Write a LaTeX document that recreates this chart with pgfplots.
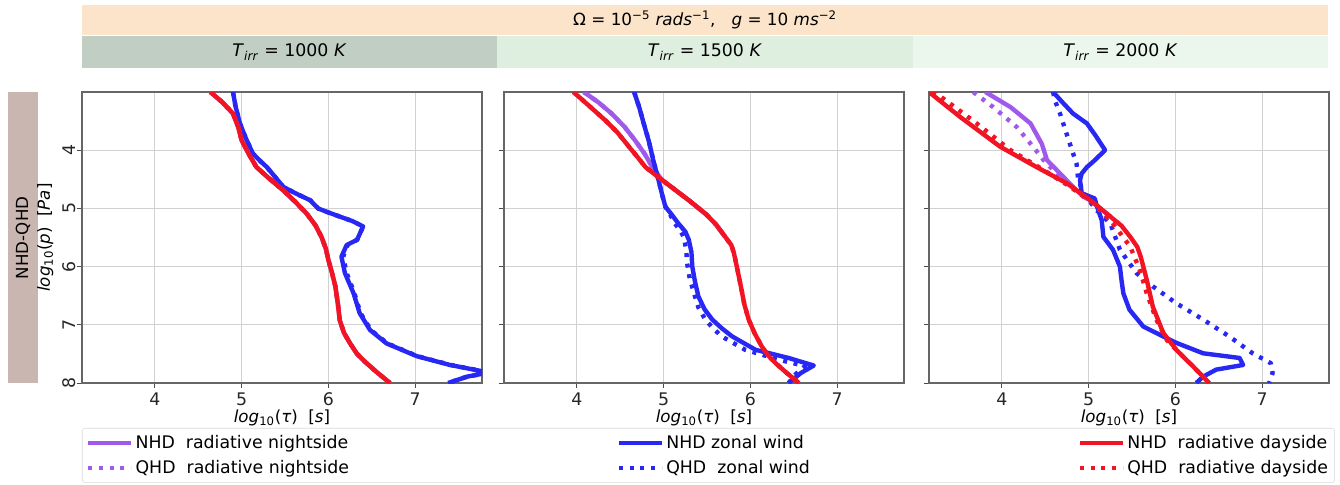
\documentclass[border=0pt]{standalone}
\usepackage{fontspec}
\setmainfont{DejaVu Sans}
\usepackage{pgfplots}
\pgfplotsset{compat=1.18}

\definecolor{cpur}{RGB}{160,90,235}
\definecolor{cblu}{RGB}{40,40,245}
\definecolor{cred}{RGB}{242,20,35}
\definecolor{hdrO}{RGB}{252,228,202}
\definecolor{hdrA}{RGB}{193,206,195}
\definecolor{hdrB}{RGB}{222,239,224}
\definecolor{hdrC}{RGB}{235,247,236}
\definecolor{rowbox}{RGB}{201,182,177}

\pgfplotsset{
 panel/.style={scale only axis, width=300pt, height=218.25pt, anchor=south west,
  xmin=3.16, xmax=7.77, ymin=3, ymax=8, y dir=reverse,
  xtick={4,5,6,7}, ytick={4,5,6,7,8},
  xtick pos=left, ytick pos=left, tick align=outside,
  major tick length=4pt,
  grid=major, grid style={color=black!18, line width=0.7pt},
  axis line style={color=black!60, line width=0.9pt},
  tick style={color=black!70, line width=0.7pt},
  /pgf/number format/assume math mode=true,
  tick label style={font=\fontsize{13}{15}\selectfont, text=black!85},
  label style={font=\fontsize{12.5}{14}\selectfont},
  yticklabel style={rotate=90, anchor=south, inner sep=0.5pt},
  xlabel={\textit{log}\textsubscript{10}(\textit{τ})\ \ [\textit{s}]},
  xlabel shift=-4pt,
  ylabel shift=3pt,
  every axis plot/.append style={line width=3.3pt, line join=round, no marks},
 },
 qhd/.style={dash pattern=on 3pt off 5pt},
}

\begin{document}
\begin{tikzpicture}
\begin{scope}[x=0.75pt,y=0.75pt]
\path (0,0) rectangle (1340,485);
\fill[hdrO] (82,450) rectangle (1328,480);
\node[font=\fontsize{12.6}{14}\selectfont] at (705,465) {Ω = 10\textsuperscript{−5} \textit{rads}\textsuperscript{−1},\ \ \ \textit{g} = 10 \textit{ms}\textsuperscript{−2}};
\fill[hdrA] (82,417) rectangle (497,449);
\fill[hdrB] (497,417) rectangle (913,449);
\fill[hdrC] (913,417) rectangle (1328,449);
\node[font=\fontsize{13}{15}\selectfont] at (289.5,433) {\textit{T}\textsubscript{\textit{irr}} = 1000 \textit{K}};
\node[font=\fontsize{13}{15}\selectfont] at (705,433) {\textit{T}\textsubscript{\textit{irr}} = 1500 \textit{K}};
\node[font=\fontsize{13}{15}\selectfont] at (1120.5,433) {\textit{T}\textsubscript{\textit{irr}} = 2000 \textit{K}};
\fill[rowbox] (8,102) rectangle (38,393);
\node[rotate=90,font=\fontsize{12.5}{14}\selectfont] at (23,247) {NHD-QHD};
\end{scope}

% ---------------- Panel 1 ----------------
\begin{axis}[panel, at={(61.5pt,76.5pt)},
  ylabel={\textit{log}\textsubscript{10}(\textit{p})\ \ [\textit{Pa}]},
  legend columns=3,
  legend cell align=left,
  legend image code/.code={\draw[#1] (0pt,0pt) -- (32pt,0pt);},
  legend style={at={(0,-0.1546)}, anchor=north west, draw=black!15, rounded corners=2pt,
    font=\fontsize{13}{15}\selectfont,
    /tikz/every even column/.append style={column sep=199pt},
    row sep=4pt,
    inner xsep=3pt, inner ysep=3pt},
]
\addlegendimage{cpur, line width=3pt}
\addlegendentry{NHD\ \ radiative nightside}
\addlegendimage{cblu, line width=3pt}
\addlegendentry{NHD zonal wind}
\addlegendimage{cred, line width=3pt}
\addlegendentry{NHD\ \ radiative dayside}
\addlegendimage{cpur, line width=3pt, qhd}
\addlegendentry{QHD\ \ radiative nightside}
\addlegendimage{cblu, line width=3pt, qhd}
\addlegendentry{QHD\ \ zonal wind}
\addlegendimage{cred, line width=3pt, qhd}
\addlegendentry{QHD\ \ radiative dayside}

% blue QHD
\addplot[cblu, qhd, forget plot] coordinates {
(4.90,3.0) (4.93,3.25) (4.98,3.54) (5.05,3.8) (5.13,4.06) (5.21,4.18) (5.29,4.29)
(5.38,4.45) (5.48,4.63) (5.62,4.74) (5.79,4.86) (5.88,5.0) (6.00,5.07) (6.13,5.14)
(6.28,5.22) (6.40,5.31) (6.33,5.54) (6.22,5.63) (6.17,5.83) (6.21,6.11) (6.30,6.46)
(6.37,6.80) (6.49,7.09) (6.68,7.32) (7.03,7.54) (7.41,7.69) (7.86,7.82) (7.60,7.89) (7.38,8.0)};
% blue NHD
\addplot[cblu, forget plot] coordinates {
(4.90,3.0) (4.93,3.25) (4.98,3.54) (5.05,3.8) (5.13,4.06) (5.21,4.18) (5.29,4.29)
(5.38,4.45) (5.48,4.63) (5.62,4.74) (5.79,4.86) (5.88,5.0) (6.00,5.07) (6.13,5.14)
(6.28,5.22) (6.40,5.31) (6.33,5.54) (6.21,5.63) (6.15,5.83) (6.19,6.11) (6.29,6.46)
(6.36,6.80) (6.48,7.09) (6.67,7.32) (7.02,7.54) (7.40,7.69) (7.85,7.82) (7.60,7.89) (7.38,8.0)};
% purple (hidden under red)
\addplot[cpur, forget plot] coordinates {
(4.64,3.0) (4.78,3.18) (4.90,3.37) (4.96,3.6) (5.00,3.83) (5.08,4.06) (5.17,4.29)
(5.32,4.49) (5.48,4.69) (5.62,4.89) (5.75,5.09) (5.85,5.29) (5.92,5.49) (5.97,5.69)
(6.00,5.89) (6.04,6.1) (6.08,6.34) (6.11,6.65) (6.13,6.92) (6.18,7.14) (6.25,7.32)
(6.33,7.5) (6.44,7.66) (6.57,7.83) (6.71,8.0)};
% red QHD
\addplot[cred, qhd, forget plot] coordinates {
(4.64,3.0) (4.78,3.18) (4.90,3.37) (4.96,3.6) (5.00,3.83) (5.08,4.06) (5.17,4.29)
(5.32,4.49) (5.48,4.69) (5.62,4.89) (5.75,5.09) (5.85,5.29) (5.92,5.49) (5.97,5.69)
(6.00,5.89) (6.04,6.1) (6.08,6.34) (6.11,6.65) (6.13,6.92) (6.18,7.14) (6.25,7.32)
(6.33,7.5) (6.44,7.66) (6.57,7.83) (6.71,8.0)};
% red NHD
\addplot[cred, forget plot] coordinates {
(4.64,3.0) (4.78,3.18) (4.90,3.37) (4.96,3.6) (5.00,3.83) (5.08,4.06) (5.17,4.29)
(5.32,4.49) (5.48,4.69) (5.62,4.89) (5.75,5.09) (5.85,5.29) (5.92,5.49) (5.97,5.69)
(6.00,5.89) (6.04,6.1) (6.08,6.34) (6.11,6.65) (6.13,6.92) (6.18,7.14) (6.25,7.32)
(6.33,7.5) (6.44,7.66) (6.57,7.83) (6.71,8.0)};
\end{axis}

% ---------------- Panel 2 ----------------
\begin{axis}[panel, at={(378pt,76.5pt)}, yticklabels={}]
% purple QHD
\addplot[cpur, qhd] coordinates {
(4.08,3.0) (4.25,3.18) (4.40,3.37) (4.55,3.6) (4.67,3.83) (4.78,4.06) (4.87,4.29)
(4.98,4.51) (5.14,4.69) (5.29,4.86) (5.48,5.09) (5.60,5.27) (5.71,5.49)};
% purple NHD
\addplot[cpur] coordinates {
(4.08,3.0) (4.25,3.18) (4.40,3.37) (4.55,3.6) (4.67,3.83) (4.78,4.06) (4.87,4.29)
(4.98,4.51) (5.14,4.69) (5.29,4.86) (5.48,5.09) (5.60,5.27) (5.71,5.49)};
% blue QHD
\addplot[cblu, qhd] coordinates {
(4.66,3.0) (4.72,3.27) (4.77,3.54) (4.83,3.85) (4.88,4.17) (4.94,4.51) (4.98,4.75)
(5.02,4.97) (5.08,5.12) (5.13,5.26) (5.20,5.4) (5.23,5.49) (5.26,5.7) (5.27,5.94)
(5.30,6.2) (5.35,6.46) (5.40,6.7) (5.48,6.91) (5.57,7.06) (5.67,7.2) (5.94,7.43)
(6.33,7.6) (6.63,7.71) (6.52,7.85) (6.44,8.0)};
% blue NHD
\addplot[cblu] coordinates {
(4.66,3.0) (4.72,3.27) (4.77,3.54) (4.83,3.85) (4.88,4.17) (4.94,4.51) (4.98,4.75)
(5.02,4.97) (5.10,5.12) (5.17,5.26) (5.25,5.4) (5.29,5.54) (5.32,5.75) (5.33,6.0)
(5.36,6.25) (5.40,6.51) (5.47,6.73) (5.56,6.91) (5.67,7.06) (5.79,7.2) (6.06,7.43)
(6.44,7.57) (6.73,7.70) (6.58,7.83) (6.44,8.0)};
% red QHD
\addplot[cred, qhd] coordinates {
(3.96,3.0) (4.15,3.25) (4.33,3.49) (4.47,3.7) (4.60,3.94) (4.70,4.12) (4.79,4.29)
(4.98,4.51) (5.14,4.69) (5.29,4.86) (5.48,5.09) (5.60,5.27) (5.71,5.49) (5.78,5.63)
(5.81,5.77) (5.85,6.05) (5.89,6.34) (5.93,6.65) (5.98,6.91) (6.05,7.15) (6.13,7.37)
(6.20,7.52) (6.29,7.66) (6.42,7.83) (6.56,8.0)};
% red NHD
\addplot[cred] coordinates {
(3.96,3.0) (4.15,3.25) (4.33,3.49) (4.47,3.7) (4.60,3.94) (4.70,4.12) (4.79,4.29)
(4.98,4.51) (5.14,4.69) (5.29,4.86) (5.48,5.09) (5.60,5.27) (5.71,5.49) (5.78,5.63)
(5.81,5.77) (5.85,6.05) (5.89,6.34) (5.93,6.65) (5.98,6.91) (6.05,7.15) (6.13,7.37)
(6.20,7.52) (6.29,7.66) (6.42,7.83) (6.56,8.0)};
\end{axis}

% ---------------- Panel 3 ----------------
\begin{axis}[panel, at={(696.75pt,76.5pt)}, yticklabels={}]
% purple QHD
\addplot[cpur, qhd] coordinates {
(3.67,3.0) (3.90,3.26) (4.17,3.6) (4.36,3.94) (4.48,4.17) (4.59,4.34) (4.79,4.63)
(5.05,4.91) (5.28,5.26)};
% purple NHD
\addplot[cpur] coordinates {
(3.81,3.0) (4.10,3.26) (4.33,3.54) (4.46,3.89) (4.52,4.17) (4.67,4.4) (4.82,4.63)
(4.94,4.80) (5.02,4.86) (5.25,5.14)};
% blue QHD
\addplot[cblu, qhd] coordinates {
(4.59,3.0) (4.61,3.14) (4.67,3.37) (4.77,3.83) (4.86,4.23) (4.88,4.51) (4.94,4.74)
(5.09,5.03) (5.25,5.26) (5.36,5.71) (5.55,6.11) (5.74,6.34) (6.01,6.63) (6.32,6.91)
(6.62,7.2) (6.89,7.49) (7.10,7.66) (7.12,7.83) (7.08,8.0)};
% blue NHD
\addplot[cblu] coordinates {
(4.59,3.0) (4.70,3.18) (4.82,3.37) (4.98,3.54) (5.08,3.75) (5.19,4.0) (5.05,4.2)
(4.98,4.29) (4.92,4.4) (4.90,4.51) (4.92,4.74) (5.07,4.83) (5.09,4.94) (5.15,5.2)
(5.17,5.49) (5.28,5.71) (5.36,6.0) (5.38,6.25) (5.40,6.46) (5.47,6.74) (5.63,7.03)
(5.86,7.2) (6.01,7.31) (6.32,7.49) (6.74,7.57) (6.78,7.69) (6.47,7.77) (6.32,7.89) (6.24,8.0)};
% red QHD
\addplot[cred, qhd] coordinates {
(3.20,3.0) (3.25,3.03) (3.71,3.54) (4.10,4.0) (4.48,4.34) (4.79,4.63) (5.05,4.91)
(5.28,5.26) (5.48,5.66) (5.59,6.06) (5.67,6.46) (5.78,6.91) (5.90,7.26) (6.01,7.43)
(6.20,7.71) (6.39,8.0)};
% red NHD
\addplot[cred] coordinates {
(3.16,3.0) (3.52,3.43) (3.98,3.94) (4.40,4.29) (4.75,4.57) (5.02,4.86) (5.25,5.14)
(5.38,5.3) (5.48,5.49) (5.56,5.66) (5.60,5.83) (5.67,6.23) (5.74,6.69) (5.86,7.14)
(6.01,7.43) (6.20,7.71) (6.39,8.0)};
\end{axis}

\pgfresetboundingbox
\path[use as bounding box] (0,0) rectangle (1005pt,363.75pt);
\end{tikzpicture}
\end{document}
